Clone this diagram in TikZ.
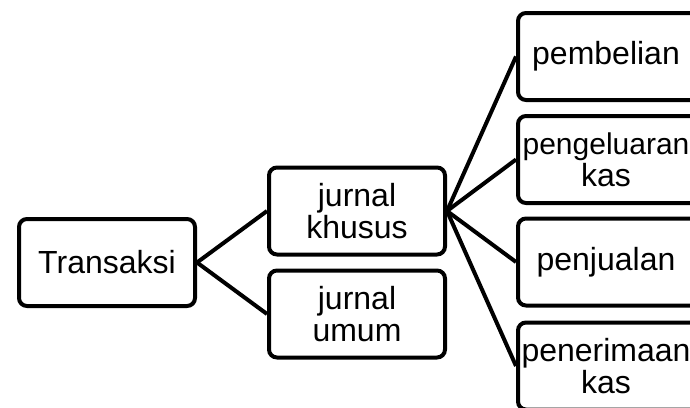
\documentclass[tikz,border=0pt]{standalone}
\usepackage{fontspec}
\setmainfont{Liberation Sans}
\begin{document}
\begin{tikzpicture}[x=1pt,y=-1pt,
  box/.style={draw=black, line width=4pt, rounded corners=8pt, fill=white,
    minimum width=176pt, minimum height=87pt, inner sep=0pt, align=center,
    font=\fontsize{32}{32}\selectfont},
  rbox/.style={box, minimum width=200pt},
  rtext/.style={label={[align=center, inner sep=0pt, xshift=-12pt,
    font=\fontsize{32}{32}\selectfont]center:#1}},
  link/.style={line width=4pt, draw=black}]
\useasboundingbox (0,0) rectangle (690,407);
\node[box] (t) at (107,262.5) {Transaksi};
\node[box] (jk) at (357,211) {jurnal\\khusus};
\node[box] (ju) at (357,314) {jurnal\\umum};
\node[rbox, rtext={pembelian}] (p1) at (618,56.5) {};
\node[rbox, rtext={{\fontsize{30}{32}\selectfont pengeluaran}\\kas}] (p2) at (618,159.5) {};
\node[rbox, rtext={penjualan}] (p3) at (618,262) {};
\node[rbox, rtext={penerimaan\\kas}] (p4) at (618,366) {};
\draw[link] (t.east) -- (jk.west);
\draw[link] (t.east) -- (ju.west);
\foreach \p in {p1,p2,p3,p4} \draw[link] (jk.east) -- (\p.west);
\end{tikzpicture}
\end{document}
